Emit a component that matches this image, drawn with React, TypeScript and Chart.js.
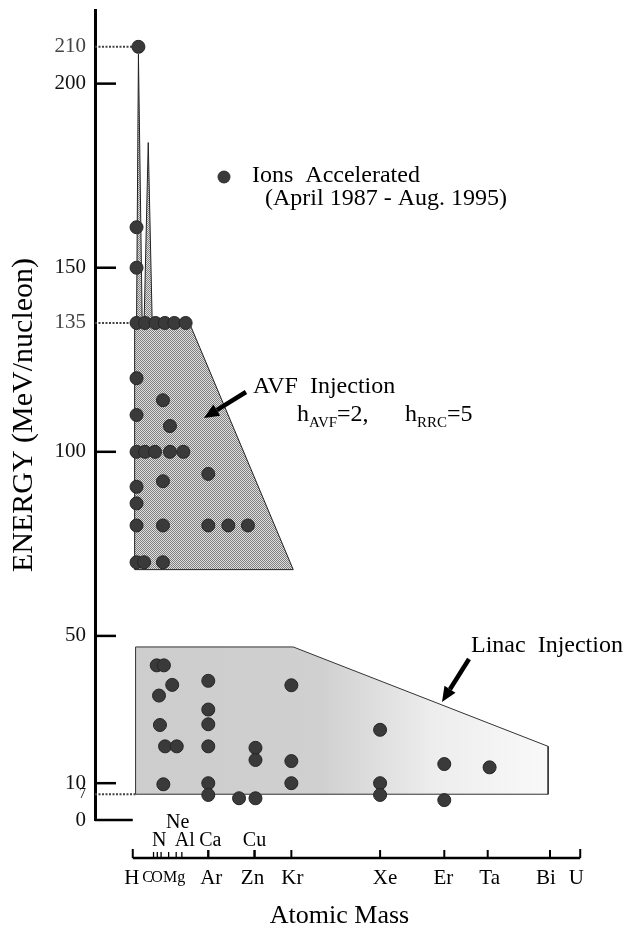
import React, { useEffect, useRef } from 'react';
import { Chart, registerables } from 'chart.js';

Chart.register(...registerables);

const FONT = "'Liberation Serif', 'Times New Roman', serif";

// ---- Y axis (energy, MeV/nucleon)
const yTickValues = [0, 7, 10, 50, 100, 135, 150, 200, 210];
const yMajorTickValues = [0, 10, 50, 100, 150, 200];
const guideLevels = [210, 135, 7];
const guideEndMass = [4, 2, 2.5];

// ---- X axis (element positions along the atomic-mass axis, as drawn)
const elementNames = ['H', 'C', 'N', 'O', 'Ne', 'Mg', 'Al', 'Ar', 'Ca', 'Cu', 'Zn', 'Kr', 'Xe', 'Er', 'Ta', 'Bi', 'U'];
const elementMass = [1, 12, 14, 16, 20, 24, 27, 41, 41, 65.5, 65.5, 85, 132, 166, 189, 222, 238];

// ---- Ions accelerated with AVF injection
const avfIonMass = [4, 3, 3, 3, 7.5, 13, 18, 23, 29, 3, 17, 3, 20.7, 3, 7.5, 12.8, 20.7, 27.8, 41, 17, 3, 3, 3, 17, 41, 51.6, 62, 3, 7, 17];
const avfIonEnergy = [210, 161, 150, 135, 135, 135, 135, 135, 135, 120, 114, 110, 107, 100, 100, 100, 100, 100, 94, 92, 90.5, 86, 80, 80, 80, 80, 80, 70, 70, 70];

// ---- Ions accelerated with linac injection
const linacIonMass = [13.7, 17.5, 21.9, 14.9, 41, 85, 41, 41, 15.4, 132, 18.1, 24.3, 41, 66, 66, 85, 17.2, 41, 85, 132, 41, 57.3, 66, 132, 166, 190, 166];
const linacIonEnergy = [42, 42, 36.7, 33.8, 37.8, 36.6, 30, 26, 25.8, 24.5, 20, 20, 20, 19.6, 16.3, 16, 9.7, 10, 10, 10, 6.8, 5.9, 5.9, 6.8, 15.2, 14.3, 5.4];

// ---- Accessible regions (outlines)
const avfRegionMass = [2, 2, 3, 4, 6, 7, 9.2, 11.3, 31, 86, 2];
const avfRegionEnergy = [68, 135, 135, 208, 135, 135, 184, 135, 135, 68, 68];
const linacRegionMass = [2.5, 86, 221, 221, 2.5, 2.5];
const linacRegionEnergy = [47, 47, 20, 7, 7, 47];

// ---- label styling (row, horizontal nudge in px, font size)
const labelStyle: Record<string, { row: number; dx: number; size: number }> = {
  H: { row: 0, dx: -1, size: 21 },
  C: { row: 0, dx: -6, size: 16 },
  N: { row: 1, dx: 2, size: 20 },
  O: { row: 0, dx: -4, size: 16 },
  Ne: { row: 2, dx: 9, size: 20 },
  Mg: { row: 0, dx: -2, size: 16 },
  Al: { row: 1, dx: 3, size: 20 },
  Ar: { row: 0, dx: 3, size: 21 },
  Ca: { row: 1, dx: 2, size: 20 },
  Cu: { row: 1, dx: 0, size: 20 },
  Zn: { row: 0, dx: -2, size: 21 },
  Kr: { row: 0, dx: 1, size: 21 },
  Xe: { row: 0, dx: 5, size: 21 },
  Er: { row: 0, dx: -1, size: 21 },
  Ta: { row: 0, dx: 2, size: 21 },
  Bi: { row: 0, dx: -4, size: 21 },
  U: { row: 0, dx: -4, size: 21 },
};
const rowY = [878, 841, 823];
const smallTick = ['C', 'N', 'O', 'Ne', 'Mg', 'Al'];

const zip = (xs: number[], ys: number[]) => xs.map((v, i) => ({ x: v, y: ys[i] }));

function stipple(ctx: CanvasRenderingContext2D, dark: string, light: string) {
  const c = document.createElement('canvas');
  c.width = 2;
  c.height = 2;
  const g = c.getContext('2d')!;
  g.fillStyle = light;
  g.fillRect(0, 0, 2, 2);
  g.fillStyle = dark;
  g.fillRect(0, 0, 1, 1);
  g.fillRect(1, 1, 1, 1);
  return ctx.createPattern(c, 'repeat');
}

function arrow(ctx: CanvasRenderingContext2D, x1: number, y1: number, x2: number, y2: number) {
  const ang = Math.atan2(y2 - y1, x2 - x1);
  const head = 15;
  const half = 6.5;
  const bx = x2 - head * Math.cos(ang);
  const by = y2 - head * Math.sin(ang);
  ctx.save();
  ctx.strokeStyle = '#000';
  ctx.fillStyle = '#000';
  ctx.lineWidth = 4.5;
  ctx.beginPath();
  ctx.moveTo(x1, y1);
  ctx.lineTo(bx, by);
  ctx.stroke();
  ctx.beginPath();
  ctx.moveTo(x2, y2);
  ctx.lineTo(bx + half * Math.sin(ang), by - half * Math.cos(ang));
  ctx.lineTo(bx - half * Math.sin(ang), by + half * Math.cos(ang));
  ctx.closePath();
  ctx.fill();
  ctx.restore();
}

function subText(ctx: CanvasRenderingContext2D, parts: [string, boolean][], x: number, base: number) {
  let cx = x;
  parts.forEach(([t, sub]) => {
    ctx.font = `${sub ? 15 : 24}px ${FONT}`;
    ctx.fillText(t, cx, sub ? base + 6 : base);
    cx += ctx.measureText(t).width;
  });
}

const decor = {
  id: 'decor',
  beforeDatasetsDraw(chart: any) {
    const { ctx, scales, chartArea } = chart;
    const x = scales.x;
    const y = scales.y;
    const ax = chartArea.left;
    ctx.save();
    ctx.strokeStyle = '#000';
    ctx.lineWidth = 2.5;
    yMajorTickValues.forEach((v) => {
      const py = y.getPixelForValue(v);
      const end = v === 0 ? x.getPixelForValue(elementMass[0]) : ax + 21;
      ctx.beginPath();
      ctx.moveTo(ax, py);
      ctx.lineTo(end, py);
      ctx.stroke();
    });
    ctx.setLineDash([2, 1.5]);
    ctx.lineWidth = 2;
    ctx.strokeStyle = '#444';
    guideLevels.forEach((v, i) => {
      const py = y.getPixelForValue(v);
      ctx.beginPath();
      ctx.moveTo(ax, py);
      ctx.lineTo(x.getPixelForValue(guideEndMass[i]), py);
      ctx.stroke();
    });
    ctx.restore();
  },
  afterDraw(chart: any) {
    const { ctx, scales } = chart;
    const x = scales.x;
    ctx.save();
    // x axis line
    const axisY = 858;
    const first = x.getPixelForValue(elementMass[0]);
    const last = x.getPixelForValue(elementMass[elementMass.length - 1]);
    ctx.strokeStyle = '#000';
    ctx.lineWidth = 2.5;
    ctx.beginPath();
    ctx.moveTo(first, axisY);
    ctx.lineTo(last, axisY);
    ctx.stroke();
    elementMass.forEach((m, i) => {
      const px = x.getPixelForValue(m);
      const name = elementNames[i];
      const small = smallTick.includes(name);
      const len = i === 0 || i === elementMass.length - 1 ? 9 : small ? 6 : 8;
      ctx.lineWidth = small ? 1.3 : 2;
      ctx.beginPath();
      ctx.moveTo(px, axisY);
      ctx.lineTo(px, axisY - len);
      ctx.stroke();
    });
    // element labels
    ctx.fillStyle = '#000';
    ctx.textAlign = 'center';
    ctx.textBaseline = 'middle';
    elementNames.forEach((name, i) => {
      const st = labelStyle[name];
      ctx.font = `${st.size}px ${FONT}`;
      ctx.fillText(name, x.getPixelForValue(elementMass[i]) + st.dx, rowY[st.row]);
    });

    // legend
    ctx.beginPath();
    ctx.arc(224, 177, 6.5, 0, Math.PI * 2);
    ctx.fillStyle = '#3a3a3a';
    ctx.fill();
    ctx.fillStyle = '#000';
    ctx.textAlign = 'left';
    ctx.font = `24px ${FONT}`;
    ctx.fillText('Ions  Accelerated', 252, 176);
    ctx.fillText('(April 1987 - Aug. 1995)', 265, 199);

    // AVF annotation
    ctx.fillText('AVF  Injection', 253, 387);
    ctx.textBaseline = 'alphabetic';
    subText(ctx, [['h', false], ['AVF', true], ['=2,', false]], 297, 421);
    subText(ctx, [['h', false], ['RRC', true], ['=5', false]], 405, 421);
    arrow(ctx, 246, 392, 204, 418);

    // Linac annotation
    ctx.textBaseline = 'middle';
    ctx.font = `24px ${FONT}`;
    ctx.fillText('Linac  Injection', 471, 646);
    arrow(ctx, 469, 659, 442, 702);
    ctx.restore();
  },
};

export default function App() {
  const ref = useRef<HTMLCanvasElement>(null);
  useEffect(() => {
    const canvas = ref.current!;
    const ctx = canvas.getContext('2d')!;
    const avfFill = stipple(ctx, '#7e7e7e', '#e0e0e0');
    const pointStyle = {
      pointRadius: 6.5,
      pointBackgroundColor: '#3a3a3a',
      pointBorderColor: '#262626',
      pointBorderWidth: 1,
    };
    const chart = new Chart(canvas, {
      type: 'scatter',
      data: {
        datasets: [
          { label: 'AVF ions', data: zip(avfIonMass, avfIonEnergy), ...pointStyle, order: 0 },
          { label: 'Linac ions', data: zip(linacIonMass, linacIonEnergy), ...pointStyle, order: 0 },
          {
            type: 'line',
            label: 'AVF injection',
            data: zip(avfRegionMass, avfRegionEnergy),
            borderColor: '#222',
            borderWidth: 1,
            pointRadius: 0,
            tension: 0,
            fill: 'shape',
            backgroundColor: avfFill as any,
            order: 1,
          } as any,
          {
            type: 'line',
            label: 'Linac injection',
            data: zip(linacRegionMass, linacRegionEnergy),
            borderColor: '#333',
            borderWidth: 1,
            pointRadius: 0,
            tension: 0,
            fill: 'shape',
            backgroundColor: (c: any) => {
              const ch = c.chart;
              const xs = ch.scales && ch.scales.x;
              if (!ch.chartArea || !xs) return '#d8d8d8';
              const a = xs.getPixelForValue(linacRegionMass[0]);
              const b = xs.getPixelForValue(linacRegionMass[2]);
              if (!isFinite(a) || !isFinite(b) || a === b) return '#d8d8d8';
              const g = ch.ctx.createLinearGradient(a, 0, b, 0);
              g.addColorStop(0, '#cdcdcd');
              g.addColorStop(0.45, '#d0d0d0');
              g.addColorStop(0.72, '#ededed');
              g.addColorStop(1, '#f9f9f9');
              return g;
            },
            order: 1,
          } as any,
        ],
      },
      options: {
        responsive: false,
        maintainAspectRatio: false,
        animation: false,
        devicePixelRatio: 1,
        layout: { padding: { top: 10, right: 55, left: 0, bottom: 0 } },
        plugins: { legend: { display: false }, tooltip: { enabled: false } },
        scales: {
          x: {
            type: 'linear',
            min: -19,
            max: 240,
            grid: { display: false, drawTicks: false },
            border: { display: false },
            ticks: { display: false },
            title: {
              display: true,
              text: 'Atomic Mass',
              color: '#000',
              font: { family: FONT, size: 26 },
              padding: { top: 0, bottom: 0 },
            },
            afterFit: (s: any) => {
              s.height = 112;
              s.paddingLeft = 0;
              s.paddingRight = 0;
            },
          },
          y: {
            type: 'linear',
            min: 0,
            max: 220,
            grid: { display: false, drawTicks: false },
            border: { display: true, width: 3, color: '#000' },
            afterBuildTicks: (s: any) => {
              s.ticks = yTickValues.map((v) => ({ value: v }));
            },
            ticks: {
              padding: 9,
              color: (c: any) => (c.tick && (c.tick.value === 210 || c.tick.value === 135) ? '#444' : '#111'),
              callback: (v: any) => String(v),
              font: (c: any) => ({ family: FONT, size: c.tick && c.tick.value === 7 ? 14 : 21 }),
            },
            title: {
              display: true,
              text: 'ENERGY (MeV/nucleon)',
              color: '#000',
              font: { family: FONT, size: 30 },
              padding: { top: 6, bottom: 0 },
            },
            afterFit: (s: any) => {
              s.width = 95;
              s.paddingTop = 0;
              s.paddingBottom = 0;
            },
          },
        },
      },
      plugins: [decor],
    } as any);
    return () => chart.destroy();
  }, []);
  return (
    <div style={{ position: 'absolute', left: 0, top: 0, width: 639, height: 932, background: '#fff' }}>
      <canvas ref={ref} width={639} height={932} style={{ display: 'block', width: 639, height: 932 }} />
    </div>
  );
}
